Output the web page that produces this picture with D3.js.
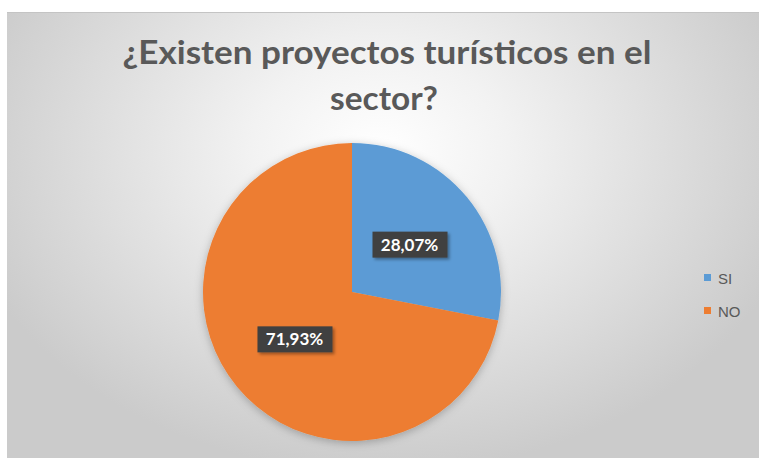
<!DOCTYPE html>
<html>
<head>
<meta charset="utf-8">
<script src="https://cdn.jsdelivr.net/npm/d3@7"></script>
<style>
  html, body { margin: 0; padding: 0; background: #ffffff; }
  svg { display: block; }
</style>
</head>
<body>
<svg id="chart" width="759" height="459"></svg>
<script>
// Survey answers and their shares (percent)
const categories = ["SI", "NO"];
const values = [28.07, 71.93];
const labels = ["28,07%", "71,93%"];
const colors = ["#5B9BD5", "#ED7D31"];
const titleLines = ["¿Existen proyectos turísticos en el", "sector?"];

const svg = d3.select("#chart");
const W = 759, H = 459;
const frame = { x: 7, y: 12, w: W - 7, h: H - 13 };

const defs = svg.append("defs");

// Soft radial background of the chart area
const bg = defs.append("radialGradient")
  .attr("id", "bgGrad")
  .attr("gradientUnits", "userSpaceOnUse")
  .attr("cx", 380).attr("cy", 150).attr("r", 430)
  .attr("gradientTransform", "translate(380,150) scale(1,0.75) translate(-380,-150)");
bg.append("stop").attr("offset", "0%").attr("stop-color", "#ffffff");
bg.append("stop").attr("offset", "30%").attr("stop-color", "#f2f2f2");
bg.append("stop").attr("offset", "100%").attr("stop-color", "#cbcbcb");

const pieShadow = defs.append("filter").attr("id", "pieShadow")
  .attr("x", "-20%").attr("y", "-20%").attr("width", "140%").attr("height", "140%");
pieShadow.append("feDropShadow").attr("dx", 0).attr("dy", 2).attr("stdDeviation", 4)
  .attr("flood-color", "#000").attr("flood-opacity", 0.25);

const boxShadow = defs.append("filter").attr("id", "boxShadow")
  .attr("x", "-30%").attr("y", "-40%").attr("width", "160%").attr("height", "180%");
boxShadow.append("feDropShadow").attr("dx", 2).attr("dy", 2).attr("stdDeviation", 1.5)
  .attr("flood-color", "#000").attr("flood-opacity", 0.35);

svg.append("rect")
  .attr("x", frame.x).attr("y", frame.y)
  .attr("width", frame.w).attr("height", frame.h)
  .attr("fill", "url(#bgGrad)");
svg.append("line")
  .attr("x1", frame.x).attr("x2", W)
  .attr("y1", frame.y + 0.5).attr("y2", frame.y + 0.5)
  .attr("stroke", "#c4c4c4").attr("stroke-width", 1);

// Title, two centred lines
const title = svg.append("g")
  .attr("font-family", "Lato, 'Open Sans', sans-serif")
  .attr("font-weight", "bold")
  .attr("fill", "#595959")
  .attr("text-anchor", "middle");
const titleSpec = [
  { x: 387, y: 64, width: 529 },
  { x: 384, y: 110, width: 108 }
];
titleLines.forEach((t, i) => {
  title.append("text")
    .attr("x", titleSpec[i].x).attr("y", titleSpec[i].y)
    .attr("font-size", 32)
    .attr("textLength", titleSpec[i].width)
    .attr("lengthAdjust", "spacingAndGlyphs")
    .text(t);
});

// Pie
const cx = 352, cy = 292, r = 149;
const pie = d3.pie().sort(null).value(d => d)(values);
const arc = d3.arc().innerRadius(0).outerRadius(r);
const labelArc = d3.arc().innerRadius(r / 2).outerRadius(r / 2);

const g = svg.append("g").attr("transform", `translate(${cx},${cy})`);
g.append("g").attr("filter", "url(#pieShadow)")
  .selectAll("path")
  .data(pie)
  .join("path")
  .attr("d", arc)
  .attr("fill", (d, i) => colors[i]);

// Data labels in dark boxes
const lab = g.selectAll("g.lab")
  .data(pie)
  .join("g")
  .attr("class", "lab")
  .attr("transform", d => `translate(${labelArc.centroid(d)})`);
lab.append("rect")
  .attr("x", -37).attr("y", -13).attr("width", 75).attr("height", 26)
  .attr("fill", "#404040")
  .attr("filter", "url(#boxShadow)");
lab.append("text")
  .attr("text-anchor", "middle")
  .attr("dy", "0.36em")
  .attr("font-family", "Lato, 'Open Sans', sans-serif")
  .attr("font-weight", "bold")
  .attr("font-size", 17)
  .attr("fill", "#ffffff")
  .text((d, i) => labels[i]);

// Legend, entries spread over the plot height
const legend = svg.append("g").attr("transform", "translate(704,284)");
const item = legend.selectAll("g")
  .data(categories)
  .join("g")
  .attr("transform", (d, i) => `translate(0,${i * 33})`);
item.append("rect")
  .attr("width", 7).attr("height", 7)
  .attr("y", -10)
  .attr("fill", (d, i) => colors[i]);
item.append("text")
  .attr("x", 14).attr("y", 0)
  .attr("font-family", "'Liberation Sans', Arial, sans-serif")
  .attr("font-size", 15)
  .attr("fill", "#595959")
  .text(d => d);
</script>
</body>
</html>
